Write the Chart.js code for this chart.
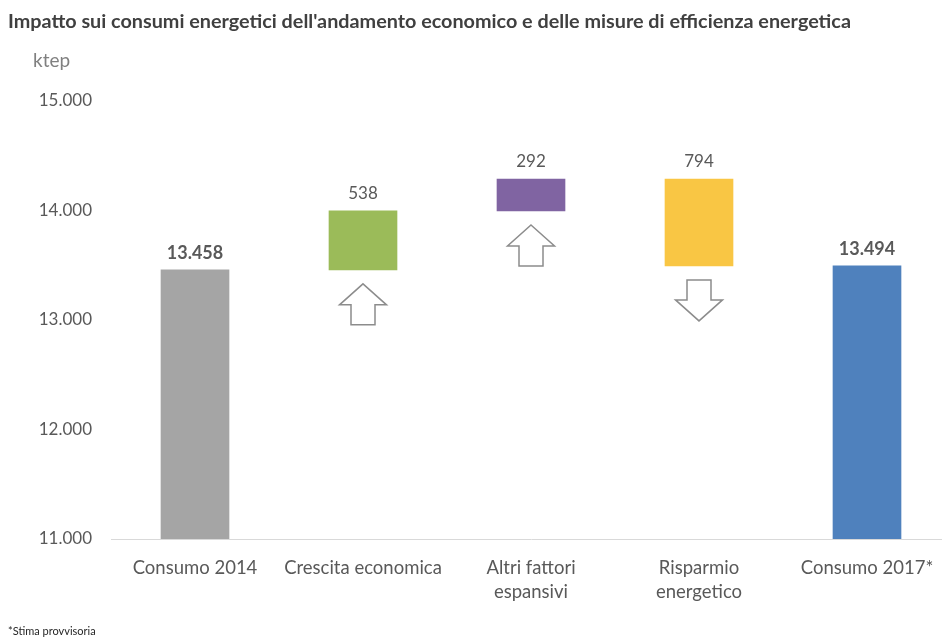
<!DOCTYPE html>
<html lang="it">
<head>
<meta charset="utf-8">
<title>Impatto sui consumi energetici</title>
<script src="https://cdn.jsdelivr.net/npm/chart.js@4/dist/chart.umd.min.js"></script>
<style>
  html, body { margin: 0; padding: 0; background: #fff; overflow: hidden; }
  #wrap { width: 942px; height: 637px; overflow: hidden; }
  canvas { display: block; }
</style>
</head>
<body>
<div id="wrap"><canvas id="chart" width="952" height="637"></canvas></div>
<script>
// Categories of the waterfall (multi-line labels as arrays)
const categories = [
  ['Consumo 2014'],
  ['Crescita economica'],
  ['Altri fattori', 'espansivi'],
  ['Risparmio', 'energetico'],
  ['Consumo 2017*']
];
// true = absolute total, false = change relative to the running total
const isTotal = [true, false, false, false, true];
// ktep
const values = [13458, 538, 292, -794, 13494];
const barColors = ['#a5a5a5', '#9bbb59', '#8064a2', '#f9c644', '#4f81bd'];
const yTicks = [11000, 12000, 13000, 14000, 15000];

const Y_MIN = yTicks[0];
const Y_MAX = yTicks[yTicks.length - 1];
const FONT = 'Lato, "Open Sans", sans-serif';
const TEXT = '#595959';

// Floating ranges: totals start at the axis floor, changes start at the running total
let running = 0;
const ranges = values.map((v, i) => {
  if (isTotal[i]) { running = v; return [Y_MIN, v]; }
  const start = running;
  running += v;
  return [start, running];
});

const fmt = n => String(Math.round(Math.abs(n))).replace(/\B(?=(\d{3})+(?!\d))/g, '.');

// Value labels above each bar
const valueLabels = {
  id: 'valueLabels',
  afterDatasetsDraw(chart) {
    const ctx = chart.ctx;
    const meta = chart.getDatasetMeta(0);
    ctx.save();
    ctx.textAlign = 'center';
    ctx.textBaseline = 'middle';
    ctx.fillStyle = TEXT;
    meta.data.forEach((el, i) => {
      const top = Math.min(el.y, el.base);
      ctx.font = (isTotal[i] ? 'bold 18px ' : '17px ') + FONT;
      ctx.fillText(fmt(values[i]), el.x, top - 17);
    });
    ctx.restore();
  }
};

// Outlined block arrows under each change bar, pointing in the direction of the change
const changeArrows = {
  id: 'changeArrows',
  afterDatasetsDraw(chart) {
    const ctx = chart.ctx;
    const meta = chart.getDatasetMeta(0);
    ctx.save();
    ctx.strokeStyle = '#8c8c8c';
    ctx.fillStyle = '#ffffff';
    ctx.lineWidth = 1.5;
    ctx.lineJoin = 'miter';
    meta.data.forEach((el, i) => {
      if (isTotal[i]) return;
      const cx = el.x;
      const t = Math.max(el.y, el.base) + 14;
      const h = 41, head = 21, hw = 23.5, sw = 12;
      ctx.beginPath();
      if (values[i] >= 0) {
        ctx.moveTo(cx, t);
        ctx.lineTo(cx + hw, t + head);
        ctx.lineTo(cx + sw, t + head);
        ctx.lineTo(cx + sw, t + h);
        ctx.lineTo(cx - sw, t + h);
        ctx.lineTo(cx - sw, t + head);
        ctx.lineTo(cx - hw, t + head);
      } else {
        ctx.moveTo(cx - sw, t);
        ctx.lineTo(cx + sw, t);
        ctx.lineTo(cx + sw, t + h - head);
        ctx.lineTo(cx + hw, t + h - head);
        ctx.lineTo(cx, t + h);
        ctx.lineTo(cx - hw, t + h - head);
        ctx.lineTo(cx - sw, t + h - head);
      }
      ctx.closePath();
      ctx.fill();
      ctx.stroke();
    });
    ctx.restore();
  }
};

// Title, unit and footnote
const captions = {
  id: 'captions',
  afterDraw(chart) {
    const ctx = chart.ctx;
    ctx.save();
    ctx.textAlign = 'left';
    ctx.textBaseline = 'middle';
    ctx.fillStyle = '#404040';
    ctx.font = 'bold 19.8px ' + FONT;
    ctx.fillText("Impatto sui consumi energetici dell'andamento economico e delle misure di efficienza energetica", 8, 22);
    ctx.fillStyle = '#808080';
    ctx.font = '19px ' + FONT;
    ctx.fillText('ktep', 33, 61);
    ctx.fillStyle = '#262626';
    ctx.font = '11px ' + FONT;
    ctx.fillText('*Stima provvisoria', 8, 631);
    ctx.restore();
  }
};

new Chart(document.getElementById('chart'), {
  type: 'bar',
  data: {
    labels: categories,
    datasets: [{
      data: ranges,
      backgroundColor: barColors,
      borderWidth: 0,
      barThickness: 68
    }]
  },
  options: {
    responsive: false,
    animation: false,
    layout: { padding: { top: 101, right: 1, left: 0, bottom: 0 } },
    plugins: {
      legend: { display: false },
      title: { display: false },
      tooltip: { enabled: false }
    },
    scales: {
      x: {
        offset: true,
        grid: { display: false },
        border: { display: true, color: '#d9d9d9', width: 1 },
        ticks: {
          color: TEXT,
          font: { family: FONT, size: 18.5, lineHeight: 1.3 },
          padding: 9,
          maxRotation: 0,
          autoSkip: false
        },
        afterFit(scale) { scale.height = 98; }
      },
      y: {
        min: Y_MIN,
        max: Y_MAX,
        grid: { display: false, drawTicks: false },
        border: { display: false },
        ticks: {
          stepSize: yTicks[1] - yTicks[0],
          color: TEXT,
          font: { family: FONT, size: 17 },
          padding: 19,
          callback: v => fmt(v)
        },
        afterFit(scale) { scale.width = 111; }
      }
    }
  },
  plugins: [valueLabels, changeArrows, captions]
});
</script>
</body>
</html>
